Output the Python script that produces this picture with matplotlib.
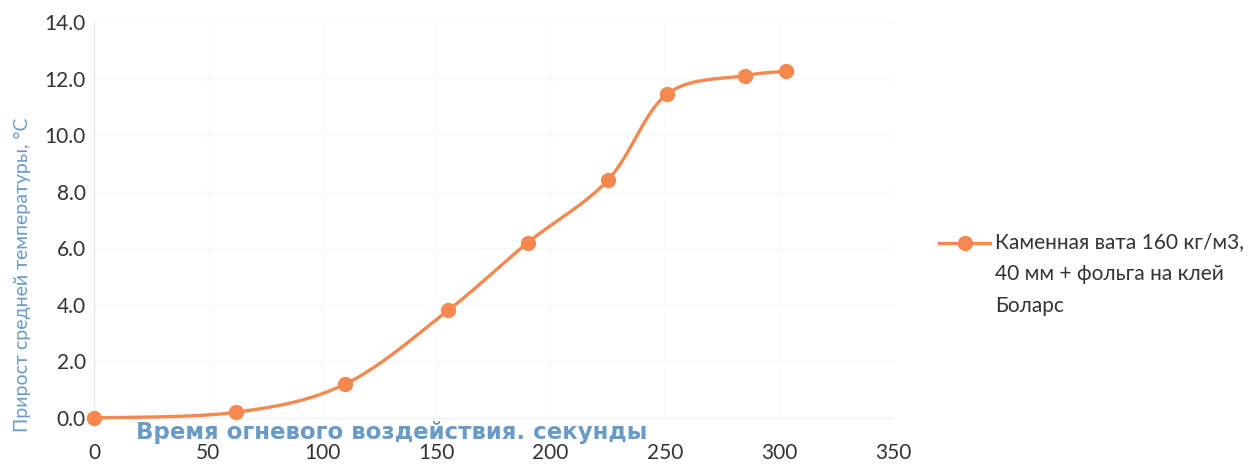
import numpy as np
import matplotlib

matplotlib.use("Agg")
import matplotlib.pyplot as plt
from matplotlib.lines import Line2D

# data
time_s = [0, 62, 110, 155, 190, 225, 251, 285, 303]
temp_rise = [0.0, 0.2, 1.2, 3.8, 6.2, 8.4, 11.45, 12.1, 12.25]
x_ticks = [0, 50, 100, 150, 200, 250, 300, 350]
y_ticks = [0, 2, 4, 6, 8, 10, 12, 14]
series_label = "Каменная вата 160 кг/м3,\n40 мм + фольга на клей\nБоларс"
x_label = "Время огневого воздействия. секунды"
y_label = "Прирост средней температуры, °С"

ORANGE = "#f5884f"
BLUE = "#6a9bc6"
TEXT = "#333333"


def smooth(xs, ys, n=40):
    # Excel-like smoothed line: cubic Bezier segments with Catmull-Rom controls
    xs = np.asarray(xs, float)
    ys = np.asarray(ys, float)
    px = np.concatenate([[xs[0]], xs, [xs[-1]]])
    py = np.concatenate([[ys[0]], ys, [ys[-1]]])
    out_x, out_y = [], []
    t = np.linspace(0, 1, n)
    for i in range(1, len(px) - 2):
        p0 = np.array([px[i], py[i]])
        p3 = np.array([px[i + 1], py[i + 1]])
        c1 = p0 + (np.array([px[i + 1], py[i + 1]]) - np.array([px[i - 1], py[i - 1]])) / 6
        c2 = p3 - (np.array([px[i + 2], py[i + 2]]) - np.array([px[i], py[i]])) / 6
        b = ((1 - t) ** 3)[:, None] * p0 + (3 * (1 - t) ** 2 * t)[:, None] * c1 \
            + (3 * (1 - t) * t ** 2)[:, None] * c2 + (t ** 3)[:, None] * p3
        out_x.extend(b[:, 0])
        out_y.extend(b[:, 1])
    return out_x, out_y


plt.rcParams["font.family"] = ["Lato", "DejaVu Sans"]

fig = plt.figure(figsize=(12.56, 4.67), dpi=100)
ax = fig.add_axes([0.075, 0.105, 0.636, 0.848])

sx, sy = smooth(time_s, temp_rise)
ax.plot(sx, sy, color=ORANGE, linewidth=2.4, solid_capstyle="round", zorder=3,
        clip_on=False)
ax.plot(time_s, temp_rise, linestyle="none", marker="o", markersize=10,
        color=ORANGE, zorder=4, clip_on=False)

ax.set_xlim(0, 350)
ax.set_ylim(0, 14)
ax.set_xticks(x_ticks)
ax.set_yticks(y_ticks)
ax.set_yticklabels([f"{v:.1f}" for v in y_ticks])
ax.tick_params(axis="both", length=0, labelsize=15, colors=TEXT)
ax.tick_params(axis="x", pad=18)
ax.tick_params(axis="y", pad=6)
ax.grid(color="#f8f8f8", linewidth=0.8)
ax.set_axisbelow(True)
for side in ["top", "right"]:
    ax.spines[side].set_visible(False)
ax.spines["left"].set_color("#e6e6e6")
ax.spines["bottom"].set_color("#f0f0f0")
ax.patch.set_alpha(0)

fig.text(0.312, 0.073, x_label, color=BLUE, fontsize=16.5, fontweight="bold",
         family="DejaVu Sans", ha="center", va="center")
fig.text(0.018, 0.412, y_label, color=BLUE, fontsize=14, rotation=90,
         ha="center", va="center")

# legend drawn by hand so the handle sits on the first line
fig.add_artist(Line2D([0.748, 0.788], [0.479, 0.479], color=ORANGE, linewidth=2.4,
                      transform=fig.transFigure))
fig.add_artist(Line2D([0.768], [0.479], color=ORANGE, marker="o", markersize=10,
                      linestyle="none", transform=fig.transFigure))
fig.text(0.792, 0.503, series_label, color=TEXT, fontsize=15, ha="left", va="top",
         linespacing=1.75)

fig.savefig("out.png", dpi=100, facecolor="white")
